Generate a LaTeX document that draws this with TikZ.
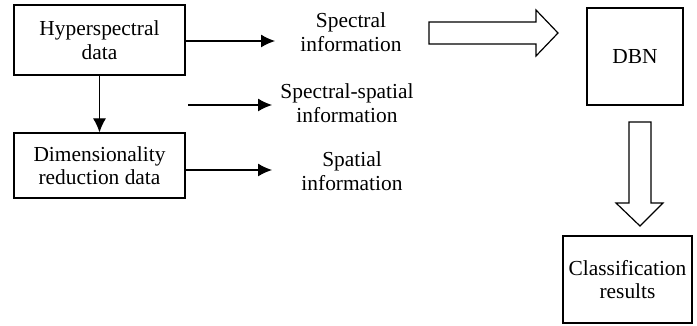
\documentclass[tikz,border=0pt]{standalone}
\usepackage{fontspec}
\setmainfont{Liberation Serif}
\usetikzlibrary{arrows.meta}
\begin{document}
\begin{tikzpicture}[x=0.5pt, y=-0.5pt,
	box/.style={draw, line width=0.6pt, align=center, inner sep=0pt},
	txt/.style={align=center, inner sep=0pt},
	arr/.style={line width=0.6pt, -{Latex[length=7pt, width=6.5pt]}},
	fat/.style={draw, line width=0.6pt, fill=white}]
	\useasboundingbox (0,0) rectangle (697,326);
	\fontsize{10.7}{11.8}\selectfont

	\node[box, minimum width=85.5pt, minimum height=35pt] (hyper) at (99.5,40) {Hyperspectral\\data};
	\node[box, minimum width=85.5pt, minimum height=32.5pt] (dimred) at (99.5,165.5) {Dimensionality\\reduction data};
	\node[box, minimum width=48pt, minimum height=48.5pt] (dbn) at (635,56.5) {DBN};
	\node[box, minimum width=64.5pt, minimum height=43.5pt] (cls) at (627.5,279.5) {Classification\\results};

	\node[txt] (spec) at (351,32) {Spectral\\information};
	\node[txt] (specspa) at (347,103) {Spectral-spatial\\information};
	\node[txt] (spat) at (352,171) {Spatial\\information};

	\coordinate (t1) at (275,41);
	\coordinate (s2) at (188,105);
	\coordinate (t2) at (272,105);
	\coordinate (t3) at (272,170);

	\draw[arr] (hyper) -- (dimred);
	\draw[arr] (hyper.east |- t1) -- (t1);
	\draw[arr] (s2) -- (t2);
	\draw[arr] (dimred.east |- t3) -- (t3);

	\draw[fat] (429,22) -- (536,22) -- (536,10) -- (558,33) -- (536,56) -- (536,44) -- (429,44) -- cycle;
	\draw[fat] (629,122) -- (651,122) -- (651,203) -- (663,203) -- (640,226) -- (616,203) -- (629,203) -- cycle;

\end{tikzpicture}
\end{document}
